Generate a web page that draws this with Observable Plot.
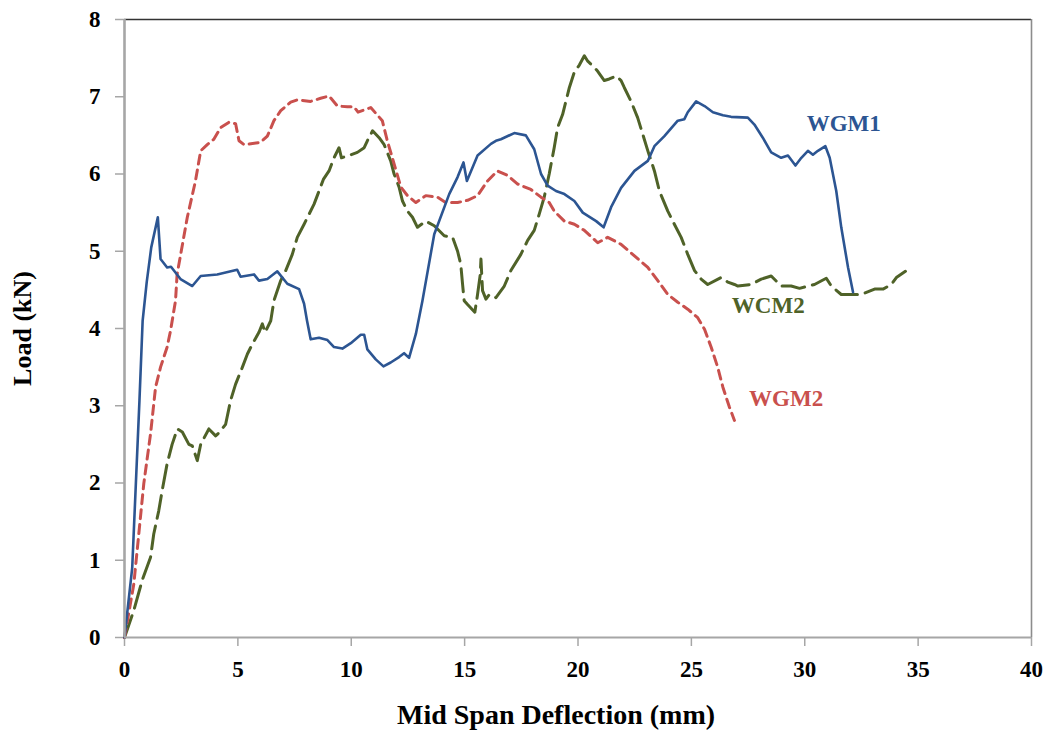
<!DOCTYPE html>
<html>
<head>
<meta charset="utf-8">
<script src="https://cdn.jsdelivr.net/npm/d3@7"></script>
<script src="https://cdn.jsdelivr.net/npm/@observablehq/plot@0.6"></script>
<style>
  html, body { margin: 0; padding: 0; background: #fff; }
  #chart { width: 1049px; height: 738px; }
</style>
</head>
<body>
<div id="chart"></div>
<script>
// ---- data ----
const wgm1X = [0,0.34,0.66,0.80,0.98,1.18,1.47,1.59,1.88,2.05,2.47,2.99,3.36,4.09,4.83,4.97,5.12,5.71,5.93,6.30,6.74,7.18,7.70,7.92,8.05,8.21,8.58,8.95,9.24,9.61,9.98,10.42,10.57,10.71,11.08,11.42,11.74,12.11,12.33,12.55,12.85,13.14,13.66,14.32,14.69,14.95,15.10,15.57,16.16,16.38,16.60,17.19,17.70,18.07,18.37,18.66,19.03,19.40,19.84,20.21,20.80,21.13,21.46,21.90,22.49,23.08,23.37,23.81,24.40,24.69,24.84,25.21,25.58,25.95,26.39,26.75,27.49,27.78,28.15,28.52,28.96,29.26,29.59,29.85,30.14,30.36,30.58,30.91,31.10,31.39,31.61,31.91,32.13];
const wgm1Y = [0,0.90,3.07,4.10,4.60,5.05,5.44,4.90,4.79,4.80,4.64,4.55,4.68,4.70,4.75,4.76,4.67,4.70,4.62,4.64,4.74,4.58,4.51,4.32,4.10,3.86,3.88,3.85,3.76,3.74,3.81,3.92,3.92,3.73,3.60,3.51,3.56,3.63,3.68,3.62,3.93,4.36,5.22,5.74,5.96,6.15,5.91,6.24,6.39,6.43,6.45,6.53,6.50,6.32,6.00,5.85,5.78,5.74,5.65,5.50,5.39,5.31,5.57,5.82,6.04,6.17,6.36,6.49,6.69,6.71,6.80,6.94,6.88,6.80,6.76,6.74,6.73,6.64,6.47,6.28,6.21,6.24,6.11,6.21,6.30,6.25,6.30,6.36,6.21,5.78,5.31,4.79,4.47];

const wgm2X = [0,0.41,0.63,0.85,1.15,1.37,1.59,1.88,2.03,2.25,2.32,2.77,3.13,3.36,3.65,3.94,4.24,4.61,4.90,5.05,5.27,6.00,6.30,6.59,6.89,7.33,7.62,8.21,8.65,9.02,9.39,9.83,10.12,10.30,10.86,11.37,11.59,11.89,12.19,12.48,12.85,13.29,13.80,14.17,14.69,15.13,15.57,16.01,16.45,16.90,17.34,17.92,18.37,18.73,18.95,19.40,19.84,20.28,20.87,21.31,21.90,22.49,23.08,23.52,23.96,24.40,24.84,25.28,25.58,25.87,26.16,26.39,26.68,26.90];
const wgm2Y = [0,0.69,1.34,1.99,2.64,3.24,3.50,3.76,3.97,4.36,4.70,5.44,5.91,6.30,6.38,6.45,6.60,6.67,6.65,6.43,6.38,6.41,6.49,6.69,6.82,6.93,6.96,6.94,6.98,7.01,6.88,6.87,6.87,6.80,6.86,6.69,6.43,6.13,5.83,5.72,5.63,5.72,5.70,5.63,5.63,5.66,5.72,5.91,6.04,5.98,5.87,5.80,5.70,5.63,5.52,5.39,5.35,5.27,5.11,5.18,5.09,4.94,4.79,4.62,4.44,4.34,4.25,4.14,3.99,3.76,3.50,3.24,2.98,2.81];

const wcm2X = [0,0.41,0.78,1.15,1.29,1.51,1.66,1.88,2.10,2.33,2.55,2.84,2.99,3.21,3.36,3.72,4.02,4.20,4.46,4.68,4.90,5.05,5.20,5.42,5.64,5.93,6.08,6.20,6.45,6.59,6.89,7.11,7.40,7.62,7.92,8.14,8.36,8.58,8.77,9.02,9.24,9.46,9.57,9.90,10.27,10.57,10.71,10.94,11.23,11.45,11.74,11.89,12.11,12.26,12.48,12.70,12.92,13.29,13.66,14.10,14.47,14.69,14.83,14.91,14.98,15.13,15.45,15.57,15.69,15.72,15.79,15.94,16.09,16.38,16.75,17.04,17.48,17.78,18.07,18.29,18.51,18.73,18.95,19.10,19.32,19.62,19.84,20.06,20.28,20.43,20.65,20.87,21.16,21.38,21.68,21.90,22.04,22.34,22.63,22.85,23.08,23.37,23.59,23.96,24.25,24.55,24.84,25.14,25.43,25.72,26.31,26.61,26.90,27.05,27.64,28.08,28.52,28.96,29.40,29.77,30.43,30.95,31.17,31.61,32.05,32.49,33.08,33.45,33.82,34.04,34.44];
const wcm2Y = [0,0.35,0.74,1.04,1.34,1.64,1.90,2.25,2.50,2.70,2.66,2.50,2.48,2.29,2.50,2.70,2.61,2.66,2.76,3.07,3.28,3.39,3.50,3.67,3.80,3.95,4.06,3.95,4.10,4.36,4.62,4.75,4.96,5.18,5.35,5.48,5.61,5.78,5.93,6.04,6.21,6.34,6.21,6.24,6.28,6.34,6.43,6.56,6.47,6.38,6.17,6.00,5.83,5.65,5.52,5.44,5.31,5.39,5.33,5.20,5.18,5.00,4.83,4.57,4.36,4.31,4.21,4.44,4.70,4.90,4.49,4.38,4.44,4.40,4.55,4.75,4.96,5.14,5.27,5.48,5.70,6.00,6.34,6.60,6.77,7.12,7.32,7.41,7.53,7.46,7.40,7.33,7.21,7.23,7.27,7.21,7.12,6.94,6.73,6.52,6.30,6.04,5.78,5.52,5.35,5.18,4.96,4.75,4.64,4.57,4.66,4.60,4.57,4.55,4.57,4.64,4.68,4.55,4.55,4.52,4.57,4.65,4.55,4.44,4.44,4.44,4.51,4.51,4.57,4.66,4.74];

const seriesNames = ["WGM1", "WCM2", "WGM2"];
const labelX = [31.72, 28.39, 29.18];
const labelY = [6.65, 4.30, 3.09];
const xTicks = [0, 5, 10, 15, 20, 25, 30, 35, 40];
const yTicks = [0, 1, 2, 3, 4, 5, 6, 7, 8];
const xTitle = "Mid Span Deflection (mm)";
const yTitle = "Load (kN)";

// ---- styles ----
const colors = {WGM1: "#2c5592", WCM2: "#4f6228", WGM2: "#c9504d"};
const serif = "'Liberation Serif', 'Times New Roman', serif";

const toRows = (xs, ys) => xs.map((x, i) => ({x, y: ys[i]}));
const wgm1 = toRows(wgm1X, wgm1Y);
const wgm2 = toRows(wgm2X, wgm2Y);
const wcm2 = toRows(wcm2X, wcm2Y);
const labels = seriesNames.map((name, i) => ({name, x: labelX[i], y: labelY[i]}));

const axisGray = "#a6a6a6";

const plot = Plot.plot({
  width: 1049,
  height: 738,
  marginLeft: 124,
  marginRight: 18,
  marginTop: 19,
  marginBottom: 101,
  style: {fontFamily: serif, background: "#fff", overflow: "visible"},
  x: {domain: [0, 40], ticks: xTicks},
  y: {domain: [0, 8], ticks: yTicks},
  marks: [
    Plot.ruleY([8], {stroke: "#333", strokeWidth: 1.6}),
    Plot.ruleX([40], {stroke: "#8c8c8c", strokeWidth: 1.6}),
    Plot.axisX({ticks: xTicks, tickSize: 9, tickPadding: 14, stroke: axisGray, strokeWidth: 1.5,
      fontSize: 22, fontWeight: "bold", fill: "#000", label: null}),
    Plot.axisY({ticks: yTicks, tickSize: 9, tickPadding: 15, stroke: axisGray, strokeWidth: 1.5,
      fontSize: 22, fontWeight: "bold", fill: "#000", label: null}),
    Plot.line(wcm2, {x: "x", y: "y", stroke: colors.WCM2, strokeWidth: 3, strokeDasharray: "23,8", strokeLinejoin: "round"}),
    Plot.line(wgm2, {x: "x", y: "y", stroke: colors.WGM2, strokeWidth: 3, strokeDasharray: "9,6", strokeLinejoin: "round"}),
    Plot.line(wgm1, {x: "x", y: "y", stroke: colors.WGM1, strokeWidth: 2.6, strokeLinejoin: "round"}),
    Plot.ruleX([0], {stroke: axisGray, strokeWidth: 2.6}),
    Plot.ruleY([0], {stroke: axisGray, strokeWidth: 2.2}),
    Plot.text(labels, {x: "x", y: "y", text: "name", fill: d => colors[d.name], fontSize: 23, fontWeight: "bold"}),
    Plot.text([xTitle], {frameAnchor: "bottom", textAnchor: "middle", dx: -22, dy: 86, fontSize: 28, fontWeight: "bold", fill: "#000"}),
    Plot.text([yTitle], {frameAnchor: "left", textAnchor: "middle", dx: -102, rotate: -90, fontSize: 26, fontWeight: "bold", fill: "#000"})
  ]
});
// make sure tick labels use the intended size
d3.select(plot).selectAll('g[aria-label="x-axis tick label"], g[aria-label="y-axis tick label"]')
  .attr("font-size", 23).style("font-size", "23px");
document.getElementById("chart").appendChild(plot);
</script>
</body>
</html>
